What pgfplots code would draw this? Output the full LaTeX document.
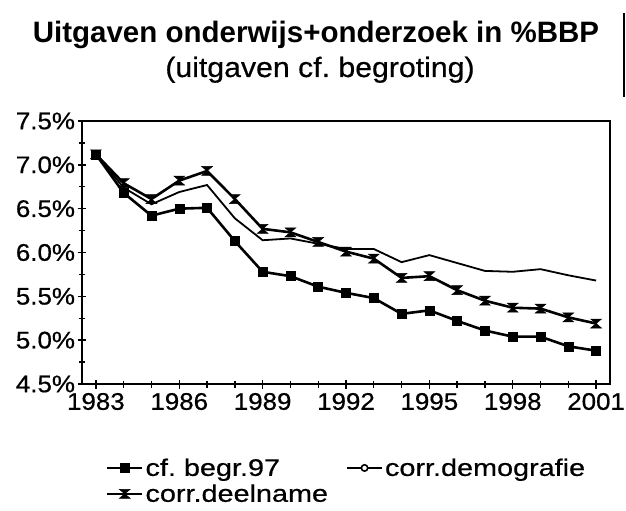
\documentclass[border=0pt]{standalone}
\usepackage{fontspec}
\usepackage{pgfplots}
\pgfplotsset{compat=1.18}
\setmainfont{Liberation Sans}
\newfontfamily\tickfont[FakeStretch=1.08,FakeBold=0.6]{Liberation Sans}
\newfontfamily\legfont[FakeStretch=1.2,FakeBold=0.6]{Liberation Sans}
\newfontfamily\subfont[FakeStretch=1.08,FakeBold=0.5]{Liberation Sans}
\frenchspacing

\pgfdeclareplotmark{hourglass}{%
  \pgfpathmoveto{\pgfpoint{-1.2\pgfplotmarksize}{\pgfplotmarksize}}%
  \pgfpathlineto{\pgfpoint{1.2\pgfplotmarksize}{\pgfplotmarksize}}%
  \pgfpathlineto{\pgfpoint{-1.2\pgfplotmarksize}{-\pgfplotmarksize}}%
  \pgfpathlineto{\pgfpoint{1.2\pgfplotmarksize}{-\pgfplotmarksize}}%
  \pgfpathclose
  \pgfusepathqfillstroke}

\begin{document}
\begin{tikzpicture}
\useasboundingbox (-82bp,-127bp) rectangle (544bp,384bp);
\begin{axis}[
  at={(0bp,0bp)}, anchor=south west,
  scale only axis, width=528bp, height=263bp,
  xmin=1982.5, xmax=2001.5, ymin=4.5, ymax=7.5,
  axis line style={line width=2bp},
  xtick={1983,1986,...,2001},
  xticklabels={1983,1986,1989,1992,1995,1998,2001},
  minor xtick={1984,1985,1987,1988,1990,1991,1993,1994,1996,1997,1999,2000},
  ytick={4.5,5,...,7.5},
  yticklabels={4.5\%,5.0\%,5.5\%,6.0\%,6.5\%,7.0\%,7.5\%},
  minor ytick={4.75,5.25,...,7.25},
  tick pos=left, tick align=center,
  major tick length=9bp, minor tick length=7bp,
  every tick/.style={black, line width=1.4bp},
  tick label style={font=\fontsize{24bp}{27bp}\tickfont},
  xticklabel style={yshift=-1bp},
  yticklabel style={xshift=1bp},
  legend columns=2,
  legend style={draw=none, fill=none, at={(axis description cs:0.045,-0.275)}, anchor=north west,
    font=\fontsize{24bp}{27bp}\legfont, row sep=3bp,
    /tikz/every even column/.append style={column sep=16bp},
    inner sep=0pt},
  legend cell align=left,
  legend image code/.code={\draw[mark repeat=2,mark phase=2, line width=2.6bp] plot coordinates {(0bp,0bp) (17.5bp,0bp) (35bp,0bp)};},
]
\addplot[black, line width=2.6bp, mark=square*, mark size=4.5bp, mark options={solid, line width=0.5bp}] coordinates {
(1983,7.12) (1984,6.68) (1985,6.42) (1986,6.50) (1987,6.51) (1988,6.13) (1989,5.78) (1990,5.73)
(1991,5.61) (1992,5.54) (1993,5.48) (1994,5.30) (1995,5.34) (1996,5.22) (1997,5.11) (1998,5.04)
(1999,5.04) (2000,4.93) (2001,4.88)};
\addlegendentry{cf. begr.97}
\addplot[black, line width=1.8bp, mark=none,
  legend image code/.code={\draw[black, line width=2bp] (0bp,0bp) -- (35bp,0bp); \draw[black, fill=white, line width=1.6bp] (17.5bp,0bp) circle (3.2bp);}] coordinates {
(1983,7.12) (1984,6.74) (1985,6.55) (1986,6.69) (1987,6.77) (1988,6.39) (1989,6.14) (1990,6.16)
(1991,6.10) (1992,6.04) (1993,6.04) (1994,5.89) (1995,5.97) (1996,5.88) (1997,5.79) (1998,5.78)
(1999,5.81) (2000,5.74) (2001,5.68)};
\addlegendentry{corr.demografie}
\addplot[black, line width=2.6bp, mark=hourglass, mark size=4.5bp, mark options={solid, line width=0.5bp}] coordinates {
(1983,7.12) (1984,6.79) (1985,6.61) (1986,6.82) (1987,6.93) (1988,6.61) (1989,6.27) (1990,6.23)
(1991,6.12) (1992,6.01) (1993,5.93) (1994,5.71) (1995,5.73) (1996,5.57) (1997,5.45) (1998,5.37)
(1999,5.36) (2000,5.26) (2001,5.19)};
\addlegendentry{corr.deelname}
\end{axis}
\node[anchor=base, font=\fontsize{29.5bp}{33bp}\selectfont\bfseries] at (234bp,341bp) {Uitgaven onderwijs+onderzoek in \%BBP};
\node[anchor=base, font=\fontsize{28bp}{32bp}\subfont] at (238bp,307bp) {(uitgaven cf. begroting)};
\draw[line width=1.3bp] (542bp,371bp) -- (542bp,287bp);
\end{tikzpicture}
\end{document}
